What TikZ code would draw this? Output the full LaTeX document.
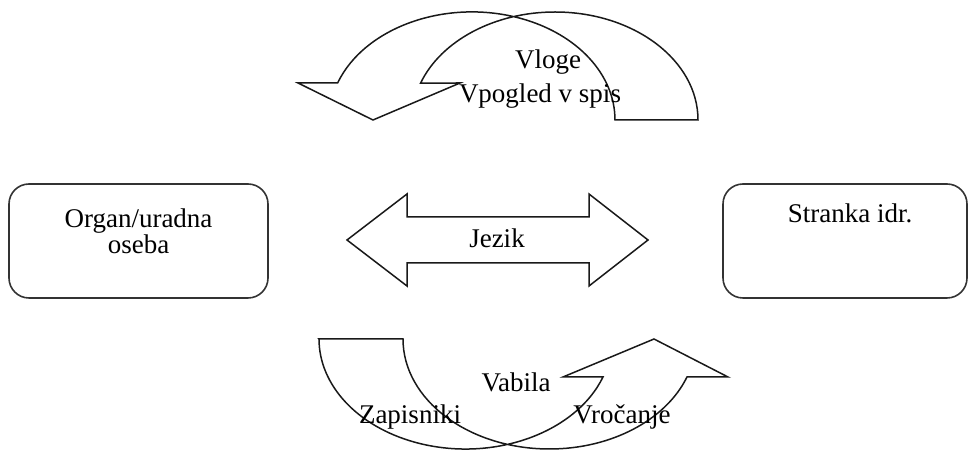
\documentclass[tikz,border=0pt]{standalone}
\usepackage{fontspec}
\setmainfont{Liberation Serif}
\begin{document}
\begin{tikzpicture}[x=1pt,y=1pt,
  lbl/.style={anchor=base,inner sep=0pt,font=\fontsize{27}{26}\selectfont},
  box/.style={draw=black!80,line width=1.6pt,rounded corners=20pt,inner sep=0pt},
  shp/.style={draw=black!90,line width=1.5pt,line join=miter}]
\useasboundingbox (0,0) rectangle (970,452);
% boxes
\node[box,minimum width=259pt,minimum height=114pt] (organ) at (138.5,211) {};
\node[box,minimum width=244pt,minimum height=114pt] (stranka) at (845,211) {};
\node[lbl] (t1) at (138.5,224) {Organ/uradna};
\node[lbl] (t2) at (138.5,198) {oseba};
\node[lbl] (t3) at (850,229) {Stranka idr.};
% double arrow Jezik
\draw[shp] (347,212) -- (407,258) -- (407,235) -- (589,235) -- (589,258) -- (648,212)
  -- (589,166) -- (589,189) -- (407,189) -- (407,166) -- cycle;
\node[lbl] (jezik) at (497,204) {Jezik};
% top curved arrow
\draw[shp] (615,332) -- (698,332)
  arc[start angle=0,end angle=160,x radius=143,y radius=108]
  -- (460,369) -- (373,332) -- (298,369) -- (337.6,369)
  arc[start angle=160,end angle=0,x radius=143,y radius=108] -- cycle;
\node[lbl] (vloge) at (548,383) {Vloge};
\node[lbl] (vpogled) at (540,349) {Vpogled v spis};
% bottom curved arrow
\draw[shp] (319,113) -- (403,113)
  arc[start angle=180,end angle=339.8,x radius=146.5,y radius=110]
  -- (728,75) -- (654,113) -- (563,75) -- (603,75)
  arc[start angle=-20.2,end angle=-180,x radius=146.5,y radius=110] -- cycle;
\node[lbl] (vabila) at (516,60) {Vabila};
\node[lbl] (zapisniki) at (410,28) {Zapisniki};
\node[lbl] (vrocanje) at (622,28) {Vročanje};
\end{tikzpicture}
\end{document}
